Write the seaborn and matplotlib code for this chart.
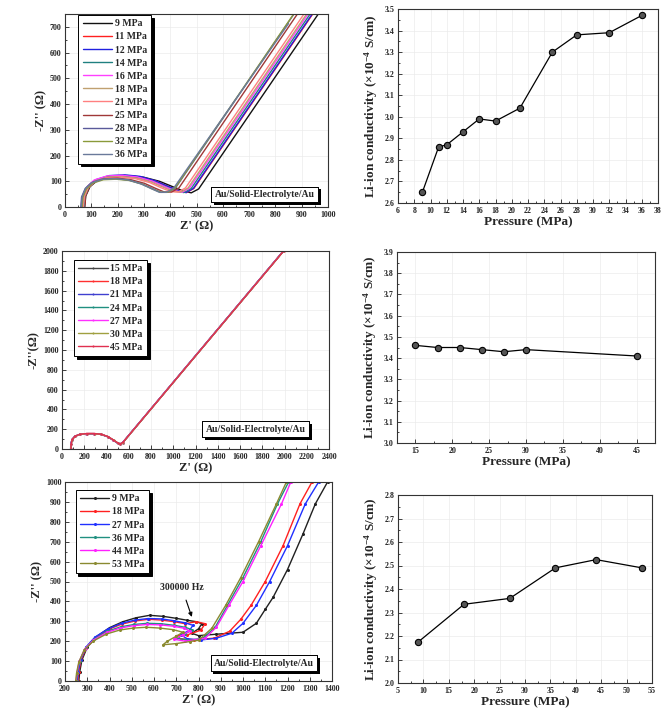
import matplotlib
matplotlib.use("Agg")
import matplotlib.pyplot as plt
import matplotlib.patheffects as pe
from matplotlib.ticker import MultipleLocator
import seaborn as sns

# ---------------- data ----------------
# Panel (a) Nyquist, 11 pressures
p1_labels = ["9 MPa", "11 MPa", "12 MPa", "14 MPa", "16 MPa", "18 MPa",
             "21 MPa", "25 MPa", "28 MPa", "32 MPa", "36 MPa"]
p1_colors = ["#111111", "#ff2020", "#2020e0", "#208080", "#ff40ff", "#c0a070",
             "#ff8080", "#a03838", "#5a5a9a", "#8a9a3a", "#6a7a9a"]
a9_x = [75, 79, 95, 124, 176, 237, 298, 359, 407, 448, 480, 508, 1020]
a9_y = [0, 43, 79, 104, 120, 122, 116, 100, 80, 63, 55, 70, 835]
a11_x = [74, 78, 93, 121, 171, 229, 287, 346, 392, 431, 462, 490, 1000]
a11_y = [0, 43, 79, 104, 120, 122, 116, 100, 80, 63, 56, 72, 837]
a12_x = [70, 74, 90, 117, 168, 226, 285, 343, 390, 429, 460, 488, 998]
a12_y = [0, 44, 81, 106, 122, 125, 119, 102, 81, 65, 56, 72, 837]
a14_x = [72, 76, 91, 118, 167, 224, 281, 338, 384, 422, 452, 480, 990]
a14_y = [0, 42, 78, 102, 118, 120, 114, 98, 78, 62, 56, 72, 837]
a16_x = [66, 70, 85, 111, 161, 218, 274, 331, 377, 415, 445, 473, 983]
a16_y = [0, 43, 80, 105, 121, 123, 117, 101, 80, 64, 57, 73, 838]
a18_x = [68, 72, 87, 113, 161, 217, 273, 328, 373, 410, 440, 468, 978]
a18_y = [0, 41, 77, 100, 116, 118, 112, 97, 77, 61, 58, 74, 839]
a21_x = [70, 74, 88, 113, 160, 214, 268, 322, 365, 401, 430, 458, 968]
a21_y = [0, 41, 75, 99, 114, 116, 110, 95, 75, 60, 58, 74, 839]
a25_x = [63, 66, 80, 104, 149, 200, 251, 302, 343, 378, 405, 433, 943]
a25_y = [0, 39, 73, 95, 110, 112, 106, 92, 73, 58, 58, 74, 839]
a28_x = [60, 63, 77, 100, 143, 193, 243, 292, 332, 365, 392, 420, 930]
a28_y = [0, 39, 72, 94, 108, 110, 105, 90, 72, 57, 58, 74, 839]
a32_x = [65, 68, 81, 104, 146, 195, 244, 293, 332, 364, 390, 418, 928]
a32_y = [0, 38, 70, 92, 106, 108, 103, 89, 70, 57, 57, 73, 838]
a36_x = [62, 65, 78, 101, 143, 191, 240, 288, 327, 359, 385, 413, 850]
a36_y = [0, 39, 72, 94, 108, 110, 105, 90, 72, 57, 57, 73, 713]
p1_x = [a9_x, a11_x, a12_x, a14_x, a16_x, a18_x, a21_x, a25_x, a28_x, a32_x, a36_x]
p1_y = [a9_y, a11_y, a12_y, a14_y, a16_y, a18_y, a21_y, a25_y, a28_y, a32_y, a36_y]

# Panel (b) conductivity
b_pressure = [9, 11, 12, 14, 16, 18, 21, 25, 28, 32, 36]
b_sigma = [2.65, 2.86, 2.87, 2.93, 2.99, 2.98, 3.04, 3.30, 3.38, 3.39, 3.47]

# Panel (c) Nyquist, 7 pressures
p3_labels = ["15 MPa", "18 MPa", "21 MPa", "24 MPa", "27 MPa", "30 MPa", "45 MPa"]
p3_colors = ["#444444", "#ff3030", "#4040d0", "#209080", "#ff30ff", "#a0a040", "#e03050"]
c15_x = [78, 80, 90, 115, 160, 220, 290, 350, 410, 460, 500, 520, 545, 1990]
c15_y = [0, 50, 95, 128, 148, 155, 155, 148, 125, 90, 60, 50, 65, 2000]
c18_x = [80, 82, 92, 117, 162, 222, 292, 352, 412, 462, 502, 522, 547, 1992]
c18_y = [0, 50, 96, 129, 149, 156, 156, 149, 126, 91, 60, 50, 65, 2000]
c21_x = [79, 81, 91, 116, 161, 221, 291, 351, 411, 461, 501, 521, 546, 1991]
c21_y = [0, 50, 95, 128, 148, 155, 155, 148, 125, 90, 60, 50, 65, 2000]
c24_x = [77, 79, 89, 114, 159, 219, 289, 349, 409, 459, 499, 519, 544, 1989]
c24_y = [0, 49, 94, 127, 147, 154, 154, 147, 124, 89, 59, 49, 64, 2000]
c27_x = [78, 80, 90, 115, 160, 220, 290, 350, 410, 460, 500, 520, 545, 1990]
c27_y = [0, 50, 95, 128, 148, 155, 155, 148, 125, 90, 60, 50, 65, 2000]
c30_x = [81, 83, 93, 118, 163, 223, 293, 353, 413, 463, 503, 523, 548, 1993]
c30_y = [0, 50, 95, 128, 148, 155, 155, 148, 125, 90, 60, 50, 65, 2000]
c45_x = [80, 82, 92, 117, 162, 222, 292, 352, 412, 462, 502, 522, 547, 1992]
c45_y = [0, 51, 96, 129, 149, 156, 156, 149, 126, 91, 61, 51, 66, 2000]
p3_x = [c15_x, c18_x, c21_x, c24_x, c27_x, c30_x, c45_x]
p3_y = [c15_y, c18_y, c21_y, c24_y, c27_y, c30_y, c45_y]

# Panel (d) conductivity
d_pressure = [15, 18, 21, 24, 27, 30, 45]
d_sigma = [3.46, 3.45, 3.45, 3.44, 3.43, 3.44, 3.41]

# Panel (e) Nyquist, 6 pressures
p5_labels = ["9 MPa", "18 MPa", "27 MPa", "36 MPa", "44 MPa", "53 MPa"]
p5_colors = ["#202020", "#ff2020", "#2030ff", "#209080", "#ff20ff", "#8a8a30"]
e9_x = [262, 266, 276, 300, 340, 400, 460, 520, 580, 640, 700, 750, 790, 815, 800, 770, 800,
        880, 1000, 1060, 1100, 1135, 1200, 1270, 1325, 1380]
e9_y = [0, 45, 105, 170, 222, 268, 298, 318, 330, 325, 315, 305, 298, 288, 262, 240, 228,
        235, 245, 290, 360, 420, 560, 740, 890, 1000]
e18_x = [258, 262, 272, 296, 336, 396, 456, 516, 576, 636, 690, 740, 790, 830, 810, 750, 700,
         720, 780, 870, 940, 990, 1036, 1100, 1180, 1256, 1310]
e18_y = [0, 45, 105, 168, 218, 260, 286, 302, 310, 306, 298, 288, 298, 288, 255, 232, 228,
         212, 208, 215, 250, 310, 380, 500, 680, 890, 1000]
e27_x = [255, 259, 270, 294, 334, 394, 454, 514, 574, 634, 690, 740, 775, 760, 720, 750, 810,
         880, 950, 1000, 1060, 1120, 1200, 1280, 1340]
e27_y = [0, 45, 105, 170, 220, 262, 290, 306, 314, 312, 303, 292, 280, 255, 232, 212, 206,
         215, 240, 290, 380, 500, 680, 890, 1000]
e36_x = [252, 256, 266, 290, 330, 390, 450, 510, 570, 630, 690, 740, 770, 740, 700, 760, 820,
         875, 930, 1000, 1080, 1155, 1205]
e36_y = [0, 42, 100, 162, 210, 250, 272, 284, 290, 288, 280, 270, 258, 236, 215, 205, 215,
         270, 380, 520, 700, 890, 1000]
e44_x = [250, 254, 264, 288, 328, 388, 448, 508, 568, 628, 688, 735, 760, 730, 690, 740, 830,
         880, 937, 1000, 1080, 1173, 1215]
e44_y = [0, 42, 98, 160, 206, 244, 266, 278, 284, 282, 275, 265, 252, 232, 210, 200, 215,
         270, 380, 500, 680, 890, 1000]
e53_x = [248, 252, 262, 286, 326, 386, 446, 506, 566, 626, 686, 730, 700, 660, 640, 700, 760,
         800, 860, 922, 990, 1070, 1150, 1195]
e53_y = [0, 40, 95, 155, 200, 236, 256, 266, 270, 266, 258, 245, 225, 200, 182, 188, 198,
         205, 265, 380, 520, 700, 890, 1000]
p5_x = [e9_x, e18_x, e27_x, e36_x, e44_x, e53_x]
p5_y = [e9_y, e18_y, e27_y, e36_y, e44_y, e53_y]

# Panel (f) conductivity
f_pressure = [9, 18, 27, 36, 44, 53]
f_sigma = [2.175, 2.335, 2.36, 2.49, 2.525, 2.49]

# ---------------- style ----------------
sns.set_theme(style="ticks")
plt.rcParams["font.family"] = ["Liberation Serif", "DejaVu Serif"]
plt.rcParams["font.weight"] = "bold"
plt.rcParams["axes.labelweight"] = "bold"
plt.rcParams["mathtext.fontset"] = "custom"
plt.rcParams["mathtext.rm"] = "Liberation Serif:bold"
plt.rcParams["mathtext.default"] = "rm"

W, H = 668, 710
fig = plt.figure(figsize=(W / 100, H / 100), dpi=100)
fig.patch.set_facecolor("white")


def add_ax(left, right, top, bottom):
    return fig.add_axes([left / W, 1 - bottom / H, (right - left) / W, (bottom - top) / H])


def style(ax, xlim, ylim, xmaj, xmin, ymaj, ymin):
    ax.set_xlim(*xlim)
    ax.set_ylim(*ylim)
    ax.xaxis.set_major_locator(MultipleLocator(xmaj))
    ax.xaxis.set_minor_locator(MultipleLocator(xmin))
    ax.yaxis.set_major_locator(MultipleLocator(ymaj))
    ax.yaxis.set_minor_locator(MultipleLocator(ymin))
    ax.tick_params(which="both", direction="in", labelsize=5.7, width=0.6, colors="#222222", pad=2)
    ax.tick_params(axis="x", which="both", pad=3)
    ax.tick_params(axis="y", which="both", pad=2.5)
    ax.tick_params(which="major", length=3)
    ax.tick_params(which="minor", length=1.6)
    ax.grid(True, which="major", color="#ebebeb", lw=0.5)
    ax.set_axisbelow(True)
    for s in ax.spines.values():
        s.set_linewidth(0.8)
        s.set_color("#333333")


def label_box(ax, x, y, size=7):
    t = ax.text(x, y, "Au/Solid-Electrolyte/Au", transform=ax.transAxes, ha="center",
                va="center", fontsize=size, fontweight="bold", zorder=10,
                bbox=dict(boxstyle="square,pad=0.35", fc="white", ec="black", lw=0.7))
    t.get_bbox_patch().set_path_effects(
        [pe.withSimplePatchShadow(offset=(2, -2), shadow_rgbFace="black", alpha=1), pe.Normal()])


def nyq_legend(ax, anchor, spacing=0.36):
    leg = ax.legend(loc="upper left", bbox_to_anchor=anchor, borderaxespad=0, fontsize=7,
                    frameon=True, fancybox=False, edgecolor="black",
                    shadow={"color": "black", "alpha": 1}, handlelength=3.0,
                    labelspacing=spacing, borderpad=0.45, handletextpad=0.3)
    leg.get_frame().set_linewidth(0.7)
    for t in leg.get_texts():
        t.set_fontweight("bold")


cond_label = "Li-ion conductivity (×10$^{-4}$ S/cm)"

# ---------------- panel (a) ----------------
ax1 = add_ax(65, 328, 14, 207)
for xs, ys, lab, col in zip(p1_x, p1_y, p1_labels, p1_colors):
    sns.lineplot(x=xs, y=ys, sort=False, estimator=None, color=col, lw=1.0, label=lab, ax=ax1)
style(ax1, (0, 1000), (0, 750), 100, 50, 100, 50)
ax1.set_xlabel("Z' (Ω)", fontsize=9, labelpad=1)
ax1.set_ylabel("-Z'' (Ω)", fontsize=9, labelpad=2)
nyq_legend(ax1, (0.05, 0.995), spacing=0.42)
label_box(ax1, 0.76, 0.065)

# ---------------- panel (b) ----------------
ax2 = add_ax(398, 658, 9, 203)
sns.lineplot(x=b_pressure, y=b_sigma, color="black", lw=0.9, marker="o", markersize=4.5,
             markerfacecolor="#555555", markeredgecolor="black", markeredgewidth=0.8, ax=ax2)
style(ax2, (6, 38), (2.6, 3.5), 2, 1, 0.1, 0.05)
ax2.set_xlabel("Pressure (MPa)", fontsize=9.5, labelpad=1)
ax2.set_ylabel(cond_label, fontsize=9.5, labelpad=3)

# ---------------- panel (c) ----------------
ax3 = add_ax(62, 329, 251, 449)
for xs, ys, lab, col in zip(p3_x, p3_y, p3_labels, p3_colors):
    sns.lineplot(x=xs, y=ys, sort=False, estimator=None, color=col, lw=1.0, label=lab,
                 marker="o", markersize=1.5, markeredgewidth=0, ax=ax3)
style(ax3, (0, 2400), (0, 2000), 200, 100, 200, 100)
ax3.set_xlabel("Z' (Ω)", fontsize=9, labelpad=1)
ax3.set_ylabel("-Z''(Ω)", fontsize=9, labelpad=2)
nyq_legend(ax3, (0.045, 0.955), spacing=0.42)
label_box(ax3, 0.725, 0.10)

# ---------------- panel (d) ----------------
ax4 = add_ax(397, 655, 252, 443)
sns.lineplot(x=d_pressure, y=d_sigma, color="black", lw=0.9, marker="o", markersize=4.5,
             markerfacecolor="#555555", markeredgecolor="black", markeredgewidth=0.8, ax=ax4)
style(ax4, (12.5, 47.5), (3.0, 3.9), 5, 2.5, 0.1, 0.05)
ax4.set_xlabel("Pressure (MPa)", fontsize=9.5, labelpad=1)
ax4.set_ylabel(cond_label, fontsize=9.5, labelpad=3)

# ---------------- panel (e) ----------------
ax5 = add_ax(65, 332, 482, 681)
for xs, ys, lab, col in zip(p5_x, p5_y, p5_labels, p5_colors):
    sns.lineplot(x=xs, y=ys, sort=False, estimator=None, color=col, lw=1.0, label=lab,
                 marker="o", markersize=2.2, markeredgewidth=0, ax=ax5)
style(ax5, (200, 1400), (0, 1000), 100, 50, 100, 50)
ax5.set_xlabel("Z' (Ω)", fontsize=9, labelpad=1)
ax5.set_ylabel("-Z'' (Ω)", fontsize=9, labelpad=2)
nyq_legend(ax5, (0.04, 0.96), spacing=0.42)
label_box(ax5, 0.745, 0.09)
ax5.annotate("300000 Hz", xy=(770, 322), xytext=(724, 472), ha="center", va="center",
             fontsize=7, fontweight="bold",
             arrowprops=dict(arrowstyle="-|>", color="black", lw=0.8, mutation_scale=6,
                             shrinkA=4, shrinkB=0))

# ---------------- panel (f) ----------------
ax6 = add_ax(398, 652, 495, 683)
sns.lineplot(x=f_pressure, y=f_sigma, color="black", lw=0.9, marker="o", markersize=4.5,
             markerfacecolor="#555555", markeredgecolor="black", markeredgewidth=0.8, ax=ax6)
style(ax6, (5, 55), (2.0, 2.8), 5, 2.5, 0.1, 0.05)
ax6.set_xlabel("Pressure (MPa)", fontsize=9.5, labelpad=1)
ax6.set_ylabel(cond_label, fontsize=9.5, labelpad=3)

fig.savefig("out.png", dpi=100, facecolor="white")
